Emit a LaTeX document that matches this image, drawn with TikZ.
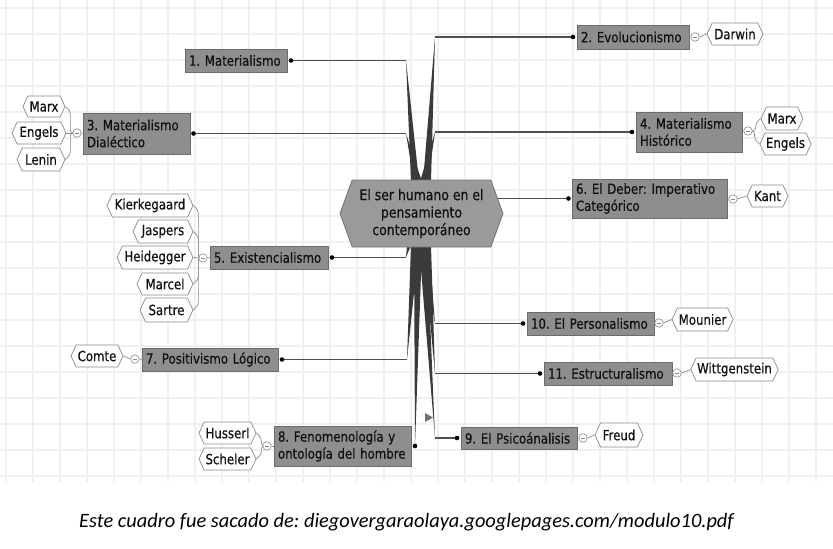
\documentclass[tikz,border=0pt]{standalone}
\usepackage{fontspec}
\setmainfont{DejaVu Sans}[FakeStretch=0.84,FakeBold=0.5]
\newfontfamily\capfont{Carlito}
\usetikzlibrary{shapes.symbols,calc}
\frenchspacing
\definecolor{brfill}{HTML}{8E8E8E}
\definecolor{brdraw}{HTML}{6C6C6C}
\definecolor{cfill}{HTML}{9A9A9A}
\definecolor{cdraw}{HTML}{747474}
\definecolor{lfdraw}{HTML}{8A8A8A}
\definecolor{txt}{HTML}{111111}
\definecolor{lnk}{HTML}{4E4E4E}
\definecolor{spk}{HTML}{3A3A3A}
\definecolor{gridc}{HTML}{F0F0F0}
\pgfdeclarelayer{gridlayer}
\pgfdeclarelayer{links}
\pgfsetlayers{gridlayer,links,main}
\tikzset{
 branch/.style={rectangle, fill=brfill, draw=brdraw, line width=0.8pt, inner xsep=4pt, inner ysep=0pt, align=left, text=txt, font=\fontsize{14}{17}\selectfont},
 leaf/.style={shape=signal, signal to=east and west, signal pointer angle=130, fill=white, draw=lfdraw, line width=0.7pt, inner xsep=1pt, inner ysep=0pt, minimum height=22pt, text=txt, font=\fontsize{14}{16}\selectfont},
 central/.style={shape=signal, signal to=east and west, signal pointer angle=140, fill=cfill, draw=cdraw, line width=0.8pt, minimum width=163pt, minimum height=67pt, align=center, inner sep=0pt, text=txt, font=\fontsize{14.8}{17.5}\selectfont},
 tog/.style={circle, fill=white, draw=lfdraw, line width=0.6pt, minimum size=8.5pt, inner sep=0pt, path picture={\draw[lfdraw, line width=0.7pt] ([xshift=-2.3pt]path picture bounding box.center) -- ([xshift=2.3pt]path picture bounding box.center);}},
 link/.style={draw=lnk, line width=1.2pt},
 spoke/.style={fill=spk},
 leafline/.style={draw=lfdraw, line width=0.7pt},
 knob/.style={fill=black},
 gridline/.style={draw=gridc, line width=1.8pt},
 marker/.style={fill=black!55},
}
\begin{document}
\begin{tikzpicture}[x=1pt,y=-1pt]
\useasboundingbox (0,0) rectangle (833,549);
\begin{pgfonlayer}{gridlayer}
\fill[white] (0,0) rectangle (833,549);
\foreach \yy in {8,34,...,476} \draw[gridline] (0,\yy) -- (833,\yy);
\foreach \xx in {6,33,...,830} \draw[gridline] (\xx,0) -- (\xx,482);
\end{pgfonlayer}

% central
\node[central] (c) at (421.5,213.5) {El ser humano en el\\pensamiento\\contempor\'aneo};

% branches
\node[branch, minimum height=23pt, text width=94pt] (b1) at (236,60.5) {1. Materialismo};
\node[branch, minimum height=24pt, text width=104pt] (b2) at (633,37) {2. Evolucionismo};
\node[branch, minimum height=41pt, text width=99pt] (b3) at (136.5,133.5) {3. Materialismo\\Dial\'ectico};
\node[branch, minimum height=40pt, text width=98pt] (b4) at (689,132) {4. Materialismo\\Hist\'orico};
\node[branch, minimum height=39pt, text width=147pt] (b6) at (649.5,198.5) {6. El Deber: Imperativo\\Categ\'orico};
\node[branch, minimum height=23pt, text width=110pt] (b5) at (269,257.5) {5. Existencialismo};
\node[branch, minimum height=23pt, text width=128pt] (b7) at (210,359.5) {7. Positivismo L\'ogico};
\node[branch, minimum height=40pt, text width=129pt] (b8) at (342.5,446) {8. Fenomenolog\'ia y\\ontolog\'ia del hombre};
\node[branch, minimum height=23pt, text width=119pt] (b10) at (590.5,323.5) {10. El Personalismo};
\node[branch, minimum height=23pt, text width=120pt] (b11) at (608,373.5) {11. Estructuralismo};
\node[branch, minimum height=22pt, text width=108pt] (b9) at (519,438) {9. El Psico\'analisis};

% leaves
\node[leaf, minimum width=56pt] (darwin) at (735,34) {Darwin};
\node[leaf, minimum width=42pt, minimum height=21pt] (marx3) at (44,106.5) {Marx};
\node[leaf, minimum width=54pt] (engels3) at (39,133) {Engels};
\node[leaf, minimum width=48pt, minimum height=23pt] (lenin) at (41,159.5) {Lenin};
\node[leaf, minimum width=42pt, minimum height=23pt] (marx4) at (782,118.5) {Marx};
\node[leaf, minimum width=49pt] (engels4) at (785.5,144) {Engels};
\node[leaf, minimum width=41pt] (kant) at (767.5,196) {Kant};
\node[leaf, minimum width=86pt, minimum height=23pt] (kierk) at (150,205.5) {Kierkegaard};
\node[leaf, minimum width=60pt, minimum height=23pt] (jasp) at (163,231.5) {Jaspers};
\node[leaf, minimum width=76pt, minimum height=23pt] (heid) at (155,257.5) {Heidegger};
\node[leaf, minimum width=56pt] (marcel) at (165,284) {Marcel};
\node[leaf, minimum width=53pt, minimum height=24pt] (sartre) at (166.5,310) {Sartre};
\node[leaf, minimum width=52pt] (comte) at (97,356) {Comte};
\node[leaf, minimum width=57pt] (huss) at (227.5,433) {Husserl};
\node[leaf, minimum width=57pt] (schel) at (227.5,459) {Scheler};
\node[leaf, minimum width=61pt, minimum height=23pt] (moun) at (702.5,319.5) {Mounier};
\node[leaf, minimum width=87pt, minimum height=23pt] (witt) at (734.5,369.5) {Wittgenstein};
\node[leaf, minimum width=48pt, minimum height=24pt] (freud) at (619,435) {Freud};

% toggles
\node[tog] (g2) at (695,37) {};
\node[tog] (g3) at (77,133) {};
\node[tog] (g4) at (748,131) {};
\node[tog] (g6) at (733,199) {};
\node[tog] (g5) at (203,258) {};
\node[tog] (g7) at (135,359) {};
\node[tog] (g8) at (267,446) {};
\node[tog] (g10) at (659,323) {};
\node[tog] (g11) at (677,373) {};
\node[tog] (g9) at (583,438) {};

% dots and tips
\coordinate (d1) at (291,60.5);   \coordinate (t1) at (406,60.5);
\coordinate (d2) at (573,37);     \coordinate (t2) at (435,37);
\coordinate (d3) at (193.5,133.5);\coordinate (t3) at (406,133.5);
\coordinate (d4) at (632,132);    \coordinate (t4) at (435,132);
\coordinate (d6) at (568.5,198.5);
\coordinate (d5) at (332,257.5);  \coordinate (t5) at (406,257.5);
\coordinate (d7) at (282,359.5);  \coordinate (t7) at (407,359.5);
\coordinate (d8) at (415,446);
\coordinate (d10) at (523,323.5); \coordinate (t10) at (435,323.5);
\coordinate (d11) at (540,373.5); \coordinate (t11) at (435,373.5);
\coordinate (d9) at (457,438);    \coordinate (t9) at (435,438);

\begin{pgfonlayer}{links}
% spokes
\fill[spoke] ($(c.north)+(-10.5,2)$) -- (t1) -- ($(c.north)+(-2.5,2)$) -- cycle;
\fill[spoke] ($(c.north)+(-7.5,2)$) -- (t3) -- ($(c.north)+(0.5,2)$) -- cycle;
\fill[spoke] ($(c.north)+(-1.5,2)$) -- (t4) -- ($(c.north)+(6.5,2)$) -- cycle;
\fill[spoke] ($(c.north)+(1.5,2)$) -- (t2) -- ($(c.north)+(9.5,2)$) -- cycle;
\fill[spoke] ($(c.south)+(-14.5,-2)$) -- (t5) -- ($(c.south)+(-10.5,-2)$) -- cycle;
\fill[spoke] ($(c.south)+(-10.5,-2)$) -- (t7) -- ($(c.south)+(-2.5,-2)$) -- cycle;
\fill[spoke] ($(c.south)+(-7.5,-2)$) -- (d8) -- ($(c.south)+(0.5,-2)$) -- cycle;
\fill[spoke] ($(c.south)+(-2.5,-2)$) -- (t9) -- ($(c.south)+(5.5,-2)$) -- cycle;
\fill[spoke] ($(c.south)+(-0.5,-2)$) -- (t10) -- ($(c.south)+(7.5,-2)$) -- cycle;
\fill[spoke] ($(c.south)+(1.5,-2)$) -- (t11) -- ($(c.south)+(9.5,-2)$) -- cycle;
% horizontal links
\draw[link] (t1) -- (d1);
\draw[link] (t2) -- (d2);
\draw[link] (t3) -- (d3);
\draw[link] (t4) -- (d4);
\draw[link] (c.center |- d6) -- (d6);
\draw[link] (t5) -- (d5);
\draw[link] (t7) -- (d7);
\draw[link] (t10) -- (d10);
\draw[link] (t11) -- (d11);
\draw[link] (t9) -- (d9);
% branch to toggle stubs
\draw[leafline] (b2.east) -- (g2.west);
\draw[leafline] (b3.west) -- (g3.east);
\draw[leafline] (b4.east) -- (g4.west);
\draw[leafline] (b6.east) -- (g6.west);
\draw[leafline] (b5.west) -- (g5.east);
\draw[leafline] (b7.west) -- (g7.east);
\draw[leafline] (b8.west) -- (g8.east);
\draw[leafline] (b10.east) -- (g10.west);
\draw[leafline] (b11.east) -- (g11.west);
\draw[leafline] (b9.east) -- (g9.west);
% toggle to leaves
\draw[leafline] (g2.east) to[out=0,in=180] (darwin.west);
\draw[leafline, rounded corners=3pt] (marx3.east) -- ++(5,5) |- (g3.west);
\draw[leafline] (engels3.east) -- (g3.west);
\draw[leafline, rounded corners=3pt] (lenin.east) -- ++(5,-5) |- (g3.west);
\draw[leafline, rounded corners=3pt] (marx4.west) -- ++(-5,5) |- (g4.east);
\draw[leafline, rounded corners=3pt] (engels4.west) -- ++(-5,-5) |- (g4.east);
\draw[leafline] (g6.east) to[out=0,in=180] (kant.west);
\draw[leafline, rounded corners=3pt] (kierk.east) -- ++(5,5) |- (g5.west);
\draw[leafline, rounded corners=3pt] (jasp.east) -- ++(5,5) |- (g5.west);
\draw[leafline] (heid.east) -- (g5.west);
\draw[leafline, rounded corners=3pt] (marcel.east) -- ++(5,-5) |- (g5.west);
\draw[leafline, rounded corners=3pt] (sartre.east) -- ++(5,-5) |- (g5.west);
\draw[leafline] (comte.east) to[out=0,in=180] (g7.west);
\draw[leafline, rounded corners=3pt] (huss.east) -- ++(5,5) |- (g8.west);
\draw[leafline, rounded corners=3pt] (schel.east) -- ++(5,-5) |- (g8.west);
\draw[leafline] (g10.east) to[out=0,in=180] (moun.west);
\draw[leafline] (g11.east) to[out=0,in=180] (witt.west);
\draw[leafline] (g9.east) to[out=0,in=180] (freud.west);
\end{pgfonlayer}

% dots
\foreach \d in {d1,d2,d3,d4,d6,d5,d7,d8,d10,d11,d9} \fill[knob] (\d) circle (2.3);
% marker
\fill[marker] (425,413) -- (433,417.5) -- (425,422) -- cycle;

% caption
\node[font=\capfont\itshape\fontsize{20.4}{24}\selectfont, text=black] (cap) at (406.5,522) {Este cuadro fue sacado de: diegovergaraolaya.googlepages.com/modulo10.pdf};
\end{tikzpicture}
\end{document}
